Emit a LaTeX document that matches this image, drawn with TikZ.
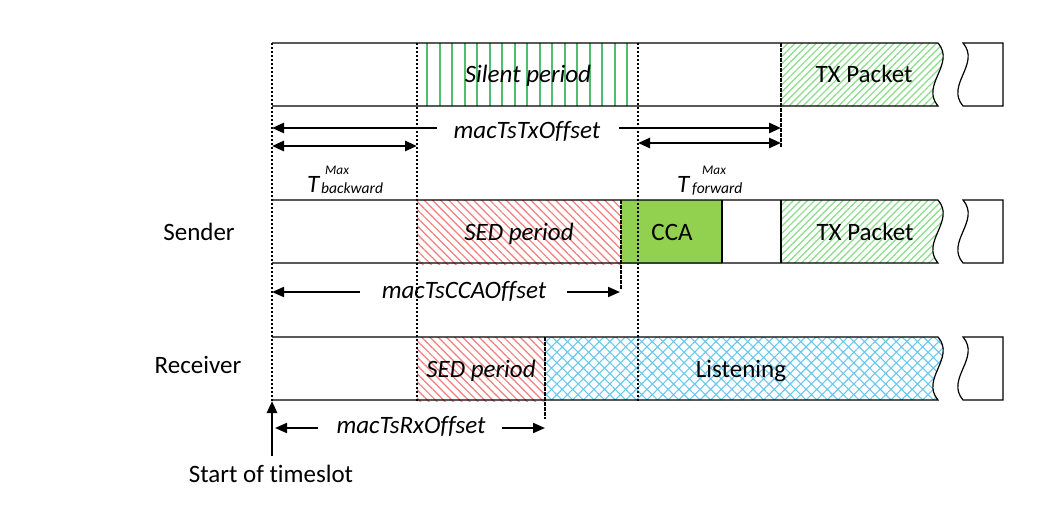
\documentclass[tikz,border=0pt]{standalone}
\usepackage{fontspec}
\setmainfont{Carlito}[Ligatures=NoCommon]
\usetikzlibrary{arrows.meta,patterns.meta}
\definecolor{silentgreen}{RGB}{80,190,110}
\definecolor{sedred}{RGB}{242,125,125}
\definecolor{txgreen}{RGB}{135,222,135}
\definecolor{listenblue}{RGB}{105,200,240}
\definecolor{ccagreen}{RGB}{146,208,80}
\tikzset{
  every node/.style={font=\fontsize{25}{29}\selectfont, inner sep=0pt},
  lbl/.style={anchor=base},
  ilbl/.style={anchor=base, font=\fontsize{25}{29}\selectfont\itshape},
  suplbl/.style={anchor=base west, font=\fontsize{13.2}{15}\selectfont\itshape},
  sublbl/.style={anchor=base west, font=\fontsize{15.5}{17}\selectfont\itshape},
  rowline/.style={line width=1.2pt, black},
  dotguide/.style={line width=1.8pt, dash pattern=on 1.6pt off 2.4pt},
  dashguide/.style={line width=1.9pt, dash pattern=on 3.5pt off 1.5pt},
  silentline/.style={line width=2pt, silentgreen},
  sedfill/.style={pattern={Lines[angle=-45,distance=5.8pt,line width=1.2pt]}, pattern color=sedred},
  txfill/.style={pattern={Lines[angle=45,distance=5pt,line width=1.2pt]}, pattern color=txgreen},
  listenfill/.style={pattern={Hatch[angle=45,distance=7.5pt,line width=1.1pt]}, pattern color=listenblue},
  dimarrow/.style={line width=2.6pt, -{Triangle[length=12pt,width=10pt]}},
  dimarrowthin/.style={line width=2pt, -{Triangle[length=12pt,width=10pt]}},
  dimboth/.style={line width=2.6pt, {Triangle[length=12pt,width=10pt]}-{Triangle[length=12pt,width=10pt]}},
  wv/.style 2 args={insert path={ .. controls ({#1+18},{#2+21}) and ({#1-18},{#2+42}) .. ({#1},{#2+63})}}
}
\begin{document}
\begin{tikzpicture}[x=1pt,y=-1pt]
\useasboundingbox[fill=white] (0,0) rectangle (1048,506);

% ---------- top row (timeslot template) ----------
\foreach \i in {0,...,16}
  \draw[silentline] ({427+\i*12.5},43) -- ({427+\i*12.5},106);
\path[txfill] (781,43) -- (938,43) [wv={938}{43}] -- (781,106) -- cycle;
\draw[rowline] (272,43) -- (938,43) [wv={938}{43}] -- (272,106);
\draw[rowline] (1003,43) -- (963,43) [wv={963}{43}] -- (1003,106) -- cycle;

% ---------- sender row ----------
\path[sedfill] (417,200) rectangle (621,264);
\fill[ccagreen] (621,200) rectangle (722,264);
\path[txfill] (781,200) -- (938,200) [wv={938}{200}] -- (781,263) -- cycle;
\draw[rowline] (272,200) -- (938,200) [wv={938}{200}] -- (272,263);
\draw[rowline] (1003,200) -- (963,200) [wv={963}{200}] -- (1003,263) -- cycle;
\draw[rowline] (722,200) -- (722,263);
\draw[rowline] (781,200) -- (781,263);

% ---------- receiver row ----------
\path[sedfill] (417,337) rectangle (545,401);
\path[listenfill] (545,337) -- (938,337) [wv={938}{337}] -- (545,400) -- cycle;
\draw[rowline] (272,337) -- (938,337) [wv={938}{337}] -- (272,400);
\draw[rowline] (1003,337) -- (963,337) [wv={963}{337}] -- (1003,400) -- cycle;

% ---------- guide lines ----------
\coordinate (g0top) at (272,43);  \coordinate (g0bot) at (272,401);
\coordinate (g1top) at (417,43);  \coordinate (g1bot) at (417,401);
\coordinate (g2top) at (638,43);  \coordinate (g2bot) at (638,401);
\coordinate (g3top) at (781,43);  \coordinate (g3bot) at (781,148);
\coordinate (g4top) at (621,200); \coordinate (g4bot) at (621,289);
\coordinate (g5top) at (545,337); \coordinate (g5bot) at (545,419);
\draw[dotguide] (g0top) -- (g0bot);
\draw[dotguide] (g1top) -- (g1bot);
\draw[dotguide] (g2top) -- (g2bot);
\draw[dashguide] (g3top) -- (g3bot);
\draw[dashguide] (g4top) -- (g4bot);
\draw[dashguide] (g5top) -- (g5bot);

% ---------- texts ----------
\node[ilbl] (silent) at (528,82) {Silent period};
\node[lbl] (tx1) at (864,82) {TX Packet};
\node[ilbl] (txoff) at (527,138) {macTsTxOffset};
\node[ilbl, anchor=base west] (tbT) at (307,192) {T};
\node[suplbl] (tbMax) at (325,174) {Max};
\node[sublbl] (tbSub) at (321,193) {backward};
\node[ilbl, anchor=base west] (tfT) at (677,192) {T};
\node[suplbl] (tfMax) at (702,174) {Max};
\node[sublbl] (tfSub) at (692,193) {forward};
\node[lbl] (sender) at (199,240) {Sender};
\node[ilbl] (sed1) at (519,240) {SED period};
\node[lbl] (cca) at (672,240) {CCA};
\node[lbl] (tx2) at (865,240) {TX Packet};
\node[ilbl] (ccaoff) at (464,298) {macTsCCAOffset};
\node[lbl] (receiver) at (198,373) {Receiver};
\node[ilbl] (sed2) at (481,377) {SED period};
\node[lbl] (listen) at (741,377) {Listening};
\node[ilbl] (rxoff) at (411,433) {macTsRxOffset};
\node[lbl] (start) at (271,482) {Start of timeslot};

% ---------- dimension arrows ----------
\coordinate (txL0) at (437,128); \coordinate (txL1) at (272,128);
\coordinate (txR0) at (619,128); \coordinate (txR1) at (781,128);
\draw[dimarrow] (txL0) -- (txL1);
\draw[dimarrow] (txR0) -- (txR1);
\coordinate (bk0) at (272,146); \coordinate (bk1) at (417,146);
\draw[dimboth] (bk0) -- (bk1);
\coordinate (fw0) at (638,143); \coordinate (fw1) at (781,143);
\draw[dimboth] (fw0) -- (fw1);
\coordinate (ccL0) at (360,292); \coordinate (ccL1) at (272,292);
\coordinate (ccR0) at (567,292); \coordinate (ccR1) at (620,292);
\draw[dimarrowthin] (ccL0) -- (ccL1);
\draw[dimarrowthin] (ccR0) -- (ccR1);
\coordinate (rxL0) at (318,428); \coordinate (rxL1) at (275,428);
\coordinate (rxR0) at (502,428); \coordinate (rxR1) at (545,428);
\draw[dimarrowthin] (rxL0) -- (rxL1);
\draw[dimarrowthin] (rxR0) -- (rxR1);
\coordinate (st0) at (272,456); \coordinate (st1) at (272,401);
\draw[dimarrow] (st0) -- (st1);
\end{tikzpicture}
\end{document}
